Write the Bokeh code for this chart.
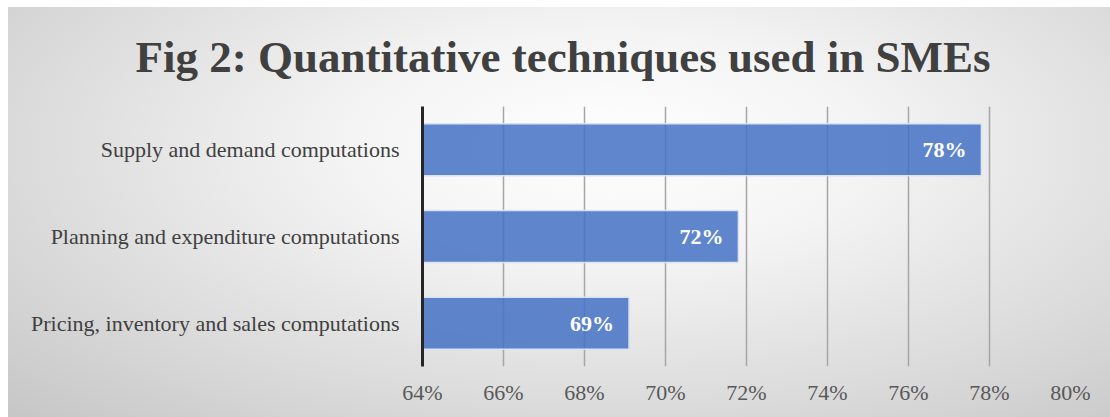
from bokeh.plotting import figure
from bokeh.models import FactorRange, Range1d, FixedTicker, NumeralTickFormatter, ColumnDataSource, LabelSet
from bokeh.embed import file_html
from bokeh.resources import INLINE

categories = ["Supply and demand computations",
              "Planning and expenditure computations",
              "Pricing, inventory and sales computations"]
values = [0.778, 0.718, 0.691]
labels = ["78%", "72%", "69%"]
tick_values = [0.64, 0.66, 0.68, 0.70, 0.72, 0.74, 0.76, 0.78, 0.80]

SERIF = "Liberation Serif"

src = ColumnDataSource(dict(cat=categories, val=values, lab=labels))

p = figure(width=1110, height=417, output_backend="svg", toolbar_location=None,
           y_range=FactorRange(factors=list(reversed(categories)), range_padding=0),
           x_range=Range1d(0.64, 0.80),
           min_border_left=422, min_border_right=40, min_border_top=106, min_border_bottom=51)

p.background_fill_alpha = 0
p.border_fill_alpha = 0
p.outline_line_color = None
p.styles = {"background": "linear-gradient(#ffffff, #ffffff) top left / 100% 7px no-repeat, "
                          "linear-gradient(#ffffff, #ffffff) top left / 8px 100% no-repeat, "
                          "radial-gradient(ellipse farthest-corner at 55% 35%, #ffffff 0%, #f4f4f4 30%, #c6c6c6 100%)"}

p.title.text = "Fig 2: Quantitative techniques used in SMEs"
p.title.text_font = SERIF
p.title.text_font_size = "45px"
p.title.text_font_style = "bold"
p.title.text_color = "#404040"
p.title.align = "left"
p.title.offset = -287
p.title.standoff = 49

p.hbar(y="cat", left=0.64, right="val", height=0.6, source=src,
       fill_color="#4472C4", fill_alpha=0.85, line_color="#dae3f3", line_width=1.5)

p.add_layout(LabelSet(x="val", y="cat", text="lab", source=src, x_offset=-15,
                      text_align="right", text_baseline="middle", text_color="white",
                      text_font=SERIF, text_font_size="22px", text_font_style="bold"))

p.xaxis.ticker = FixedTicker(ticks=tick_values)
p.xaxis.formatter = NumeralTickFormatter(format="0%")
p.xaxis.axis_line_color = None
p.xaxis.major_tick_line_color = None
p.xaxis.minor_tick_line_color = None
p.xaxis.major_label_text_font = SERIF
p.xaxis.major_label_text_font_size = "22px"
p.xaxis.major_label_text_color = "#595959"
p.xaxis.major_label_standoff = 7

p.yaxis.axis_line_color = "#262626"
p.yaxis.axis_line_width = 3
p.yaxis.major_tick_line_color = None
p.yaxis.minor_tick_line_color = None
p.yaxis.major_label_text_font = SERIF
p.yaxis.major_label_text_font_size = "22px"
p.yaxis.major_label_text_color = "#404040"
p.yaxis.major_label_standoff = 17

p.xgrid.grid_line_color = "#a6a6a6"
p.xgrid.grid_line_width = 1.5
p.ygrid.grid_line_color = None

open("out.html", "w").write(file_html(p, INLINE))
